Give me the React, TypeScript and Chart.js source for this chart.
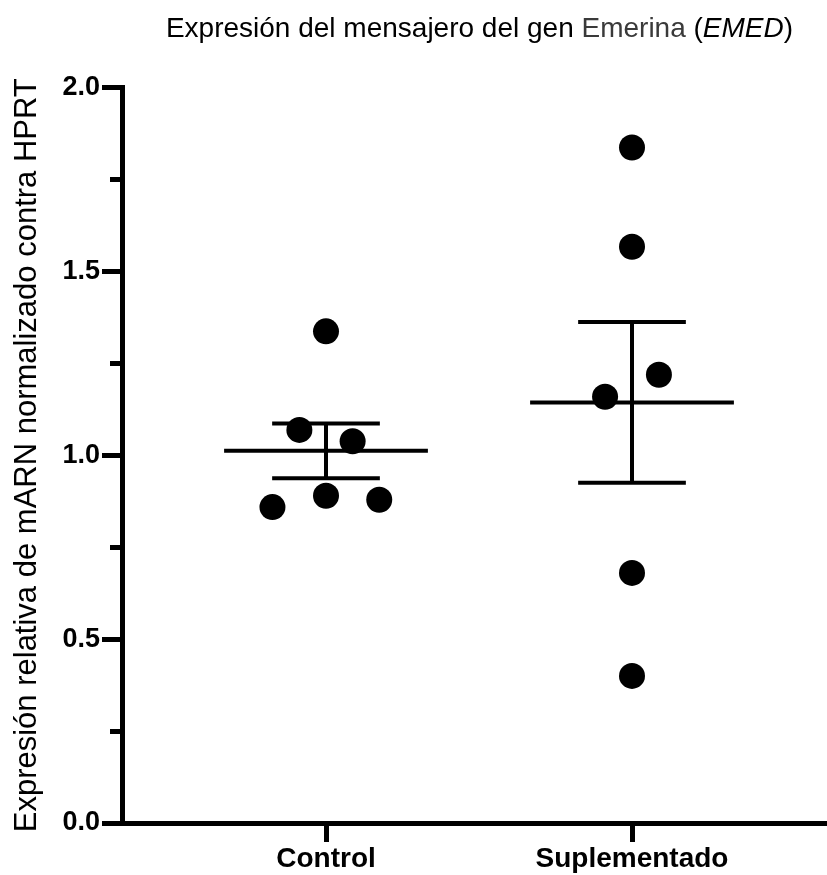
import React, { useEffect, useRef } from 'react';
import { Chart, registerables } from 'chart.js';

Chart.register(...registerables);

// ---- data ----
const categories = ['Control', 'Suplementado'];
const controlValues = [1.337, 1.069, 1.038, 0.859, 0.890, 0.879];
const controlJitter = [0, -0.087, 0.087, -0.175, 0, 0.174];
const supplementValues = [1.837, 1.567, 1.159, 1.219, 0.680, 0.400];
const supplementJitter = [0, 0, -0.088, 0.088, 0, 0];
const yMin = 0;
const yMax = 2;
const yMinorStep = 0.25;
const yMajorStep = 0.5;

const titleParts = [
  { text: 'Expresión del mensajero del gen ', italic: false, color: '#000000' },
  { text: 'Emerina', italic: false, color: '#3a3a3a' },
  { text: ' (', italic: false, color: '#000000' },
  { text: 'EMED', italic: true, color: '#000000' },
  { text: ')', italic: false, color: '#000000' },
];
const yAxisTitle = 'Expresión relativa de mARN normalizado contra HPRT';

const FONT = '"Liberation Sans", Arial, Helvetica, sans-serif';

const groups = [
  { values: controlValues, jitter: controlJitter },
  { values: supplementValues, jitter: supplementJitter },
];

function meanSem(vals: number[]) {
  const n = vals.length;
  const m = vals.reduce((a, b) => a + b, 0) / n;
  const sd = Math.sqrt(vals.reduce((a, b) => a + (b - m) * (b - m), 0) / (n - 1));
  return { mean: m, sem: sd / Math.sqrt(n) };
}

const isMajor = (v: number) => Math.abs(v / yMajorStep - Math.round(v / yMajorStep)) < 1e-6;

const titlePlugin = {
  id: 'mixedTitle',
  afterDraw(chart: any) {
    const { ctx, chartArea } = chart;
    ctx.save();
    const size = 28;
    const fontFor = (p: any) => `${p.italic ? 'italic ' : ''}normal ${size}px ${FONT}`;
    let total = 0;
    for (const p of titleParts) {
      ctx.font = fontFor(p);
      total += ctx.measureText(p.text).width;
    }
    let x = (chartArea.left + chartArea.right) / 2 + 5 - total / 2;
    const y = 37;
    ctx.textBaseline = 'alphabetic';
    ctx.textAlign = 'left';
    for (const p of titleParts) {
      ctx.font = fontFor(p);
      ctx.fillStyle = p.color;
      ctx.fillText(p.text, x, y);
      x += ctx.measureText(p.text).width;
    }
    ctx.restore();
  },
};

const errorBarPlugin = {
  id: 'meanSem',
  beforeDatasetsDraw(chart: any) {
    const { ctx, scales } = chart;
    const xs = scales.x;
    const ys = scales.y;
    ctx.save();
    ctx.strokeStyle = '#000';
    ctx.lineWidth = 4;
    ctx.lineCap = 'butt';
    groups.forEach((g, i) => {
      const c = i + 1;
      const { mean, sem } = meanSem(g.values);
      const line = (x1: number, y1: number, x2: number, y2: number) => {
        ctx.beginPath();
        ctx.moveTo(xs.getPixelForValue(x1), ys.getPixelForValue(y1));
        ctx.lineTo(xs.getPixelForValue(x2), ys.getPixelForValue(y2));
        ctx.stroke();
      };
      line(c - 0.333, mean, c + 0.333, mean);
      line(c, mean - sem, c, mean + sem);
      line(c - 0.176, mean + sem, c + 0.176, mean + sem);
      line(c - 0.176, mean - sem, c + 0.176, mean - sem);
    });
    ctx.restore();
  },
};

const minorTickPlugin = {
  id: 'minorTicks',
  afterDraw(chart: any) {
    const { ctx, scales } = chart;
    const ys = scales.y;
    ctx.save();
    ctx.strokeStyle = '#000';
    ctx.lineWidth = 5;
    for (const t of ys.ticks) {
      if (isMajor(t.value)) continue;
      const py = Math.round(ys.getPixelForValue(t.value)) + 0.5;
      ctx.beginPath();
      ctx.moveTo(ys.right - 12, py);
      ctx.lineTo(ys.right, py);
      ctx.stroke();
    }
    ctx.restore();
  },
};

export default function App() {
  const ref = useRef<HTMLCanvasElement | null>(null);

  useEffect(() => {
    if (!ref.current) return;
    const chart = new Chart(ref.current, {
      type: 'scatter',
      data: {
        datasets: groups.map((g, i) => ({
          label: categories[i],
          data: g.values.map((v, k) => ({ x: i + 1 + g.jitter[k], y: v })),
          pointRadius: 13,
          pointHoverRadius: 13,
          pointBackgroundColor: '#000',
          pointBorderWidth: 0,
          backgroundColor: '#000',
          borderColor: '#000',
        })),
      },
      options: {
        animation: false,
        responsive: false,
        maintainAspectRatio: false,
        layout: { autoPadding: false, padding: { top: 87.5, left: 0, right: 0, bottom: 0 } },
        plugins: {
          legend: { display: false },
          tooltip: { enabled: false },
          title: { display: false },
        },
        scales: {
          x: {
            type: 'linear',
            min: 1 - 204 / 306,
            max: 2 + 195 / 306,
            afterBuildTicks: (scale: any) => {
              scale.ticks = categories.map((_, i) => ({ value: i + 1 }));
            },
            afterFit: (scale: any) => {
              scale.height = 52;
            },
            ticks: {
              autoSkip: false,
              maxRotation: 0,
              padding: 0,
              color: '#000',
              font: { family: FONT, size: 28, weight: 'bold' },
              callback: (v: any) => categories[Math.round(v) - 1] ?? '',
            },
            grid: {
              drawOnChartArea: false,
              drawTicks: true,
              tickLength: 19,
              tickWidth: 5,
              tickColor: '#000',
              color: '#000',
              lineWidth: 5,
            },
            border: { display: true, color: '#000', width: 5 },
          },
          y: {
            type: 'linear',
            min: yMin,
            max: yMax,
            afterFit: (scale: any) => {
              scale.width = 122;
            },
            ticks: {
              stepSize: yMinorStep,
              autoSkip: false,
              padding: 2,
              color: '#000',
              font: { family: FONT, size: 27, weight: 'bold' },
              callback: (v: any) => (isMajor(v) ? Number(v).toFixed(1) : ''),
            },
            grid: {
              drawOnChartArea: false,
              drawTicks: true,
              tickLength: 20,
              tickWidth: 5,
              tickColor: (c: any) => (c.tick && isMajor(c.tick.value) ? '#000' : 'rgba(0,0,0,0)'),
              color: '#000',
              lineWidth: 5,
            },
            border: { display: true, color: '#000', width: 5 },
            title: {
              display: true,
              text: yAxisTitle,
              color: '#000',
              font: { family: FONT, size: 31, weight: 'normal' },
              padding: { top: 9, bottom: 0 },
            },
          },
        },
      },
      plugins: [titlePlugin, errorBarPlugin, minorTickPlugin],
    } as any);
    return () => chart.destroy();
  }, []);

  return (
    <div style={{ position: 'absolute', left: 0, top: 0, width: 827, height: 875, background: '#fff' }}>
      <canvas ref={ref} width={827} height={875} style={{ display: 'block' }} />
    </div>
  );
}
